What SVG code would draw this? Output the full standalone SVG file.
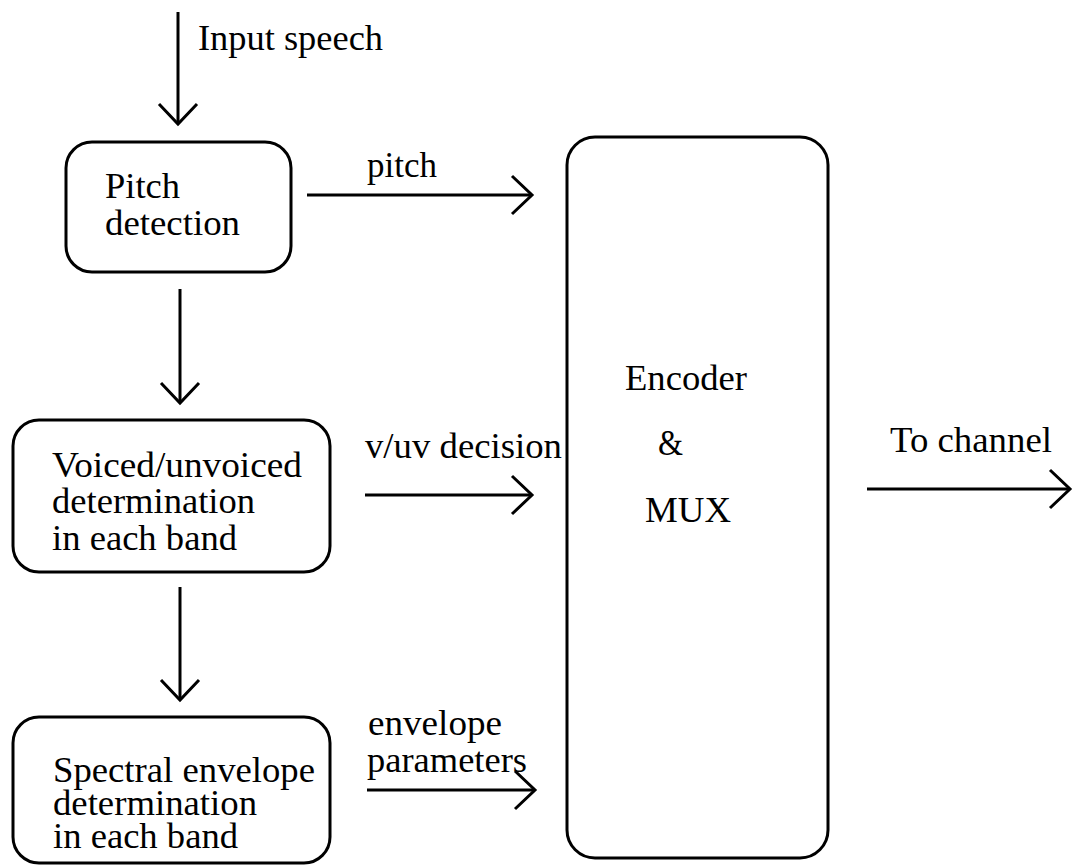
<svg xmlns="http://www.w3.org/2000/svg" width="1073" height="866" viewBox="0 0 1073 866">
<defs>
<marker id="ah" markerUnits="userSpaceOnUse" viewBox="-26 -24 30 48" markerWidth="30" markerHeight="48" refX="0" refY="0" orient="auto">
<path d="M-20,-19 L0,0 L-20,19" fill="none" stroke="#000" stroke-width="3" stroke-linejoin="miter"/>
</marker>
</defs>
<style>
text{font-family:"Liberation Serif","Times New Roman",serif;font-size:36px;fill:#000}
.box{fill:none;stroke:#000;stroke-width:3}
.con{fill:none;stroke:#000;stroke-width:3;marker-end:url(#ah)}
</style>
<rect width="1073" height="866" fill="#fff"/>
<g id="connectors">
<line class="con" x1="178" y1="12" x2="178" y2="124"/>
<line class="con" x1="307" y1="195" x2="532" y2="195"/>
<line class="con" x1="180" y1="289" x2="180" y2="403"/>
<line class="con" x1="365" y1="495" x2="532" y2="495"/>
<line class="con" x1="180" y1="587" x2="180" y2="700"/>
<line class="con" x1="367" y1="790" x2="535" y2="790"/>
<line class="con" x1="867" y1="489" x2="1070" y2="489"/>
<text x="198" y="50" textLength="185" lengthAdjust="spacingAndGlyphs">Input speech</text>
<text x="367" y="177" textLength="70" lengthAdjust="spacingAndGlyphs">pitch</text>
<text x="365" y="458" textLength="197" lengthAdjust="spacingAndGlyphs">v/uv decision</text>
<text x="368" y="735" textLength="134" lengthAdjust="spacingAndGlyphs">envelope</text>
<text x="367" y="772" textLength="160" lengthAdjust="spacingAndGlyphs">parameters</text>
<text x="890" y="452" textLength="162" lengthAdjust="spacingAndGlyphs">To channel</text>
</g>
<g id="pitch-detection">
<rect class="box" x="66" y="142" width="225" height="130" rx="26"/>
<text x="105" y="198" textLength="75" lengthAdjust="spacingAndGlyphs">Pitch</text>
<text x="105" y="235" textLength="135" lengthAdjust="spacingAndGlyphs">detection</text>
</g>
<g id="vuv-determination">
<rect class="box" x="13" y="420" width="317" height="152" rx="26"/>
<text x="52" y="477" textLength="250" lengthAdjust="spacingAndGlyphs">Voiced/unvoiced</text>
<text x="52" y="513" textLength="203" lengthAdjust="spacingAndGlyphs">determination</text>
<text x="52" y="550" textLength="185" lengthAdjust="spacingAndGlyphs">in each band</text>
</g>
<g id="spectral-envelope">
<rect class="box" x="13" y="717" width="317" height="146" rx="26"/>
<text x="53" y="782" textLength="262" lengthAdjust="spacingAndGlyphs">Spectral envelope</text>
<text x="53" y="815" textLength="204" lengthAdjust="spacingAndGlyphs">determination</text>
<text x="53" y="848" textLength="185" lengthAdjust="spacingAndGlyphs">in each band</text>
</g>
<g id="encoder-mux">
<rect class="box" x="567" y="137" width="261" height="721" rx="28"/>
<text x="625" y="390" textLength="122" lengthAdjust="spacingAndGlyphs">Encoder</text>
<text x="658" y="455" textLength="25" lengthAdjust="spacingAndGlyphs">&amp;</text>
<text x="645" y="522" textLength="86" lengthAdjust="spacingAndGlyphs">MUX</text>
</g>
</svg>
